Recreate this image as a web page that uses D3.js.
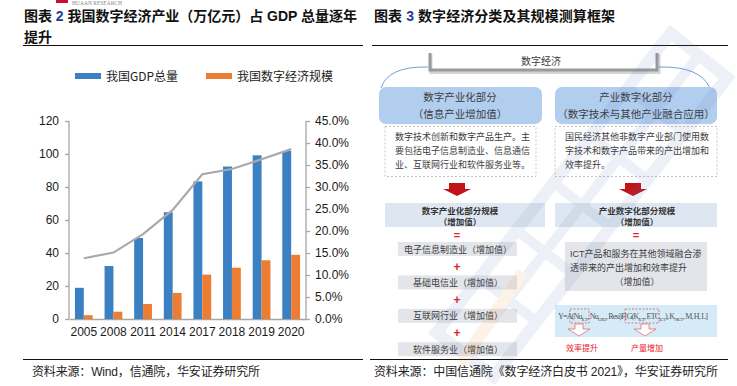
<!DOCTYPE html>
<html>
<head>
<meta charset="utf-8">
<script src="https://cdn.jsdelivr.net/npm/d3@7/dist/d3.min.js"></script>
<style>
  body { margin: 0; background: #fff; }
  svg { display: block; }
  text { font-family: "Liberation Sans", "Noto Sans CJK SC", sans-serif; }
  .cjk { font-family: "Noto Sans CJK SC", sans-serif; }
</style>
</head>
<body>
<svg id="chart" width="737" height="386"></svg>
<script>
// ---- chart 2 data (万亿元, %)
var years = ["2005", "2008", "2011", "2014", "2017", "2018", "2019", "2020"];
var gdpTotal = [18.9, 32.1, 49.1, 64.7, 83.4, 92.4, 99.2, 101.8];
var digitalScale = [2.3, 4.4, 9.1, 15.8, 26.9, 31.1, 35.6, 38.9];
var digitalShare = [13.8, 15.1, 19.3, 24.8, 32.9, 34.1, 36.3, 38.6];
var leftTicks = [0, 20, 40, 60, 80, 100, 120];
var rightTicks = [0, 5, 10, 15, 20, 25, 30, 35, 40, 45];
var seriesNames = ["我国GDP总量", "我国数字经济规模"];

// ---- chart 3 (framework) texts
var topLabel = "数字经济";
var partTitles = [["数字产业化部分", "（信息产业增加值）"], ["产业数字化部分", "（数字技术与其他产业融合应用）"]];
var partDesc = [
  ["数字技术创新和数字产品生产。主", "要包括电子信息制造业、信息通信", "业、互联网行业和软件服务业等。"],
  ["国民经济其他非数字产业部门使用数", "字技术和数字产品带来的产出增加和", "效率提升。"]
];
var scaleTitles = [["数字产业化部分规模", "（增加值）"], ["产业数字化部分规模", "（增加值）"]];
var industries = ["电子信息制造业（增加值）", "基础电信业（增加值）", "互联网行业（增加值）", "软件服务业（增加值）"];
var ictText = ["ICT产品和服务在其他领域融合渗", "透带来的产出增加和效率提升", "（增加值）"];
var formulaParts = [["Y=A(Nu", 0], ["ICT", 1], [", Nu", 0], ["OTD", 1], [", Resi)F[G(K", 0], ["ICT", 1],
  [", ETC", 0], ["ICT", 1], ["), K", 0], ["NICT", 1], [", M, H, L]", 0]];
var effects = ["效率提升", "产量增加"];

var blue = "#3a80c2", orange = "#ed7d31", lineGray = "#a9a9a9";
var svg = d3.select("#chart");

// header logo scrap
svg.append("rect").attr("x", 56).attr("y", 0).attr("width", 12).attr("height", 3).attr("fill", "#c8102e");
svg.append("text").attr("x", 72).attr("y", 5).attr("font-size", 5.5).attr("fill", "#888")
  .style("font-family", "Liberation Serif").text("HUAAN RESEARCH");

// titles
var t1 = svg.append("text").attr("x", 24).attr("y", 21).attr("font-size", 14).attr("font-weight", "bold")
  .attr("textLength", 333).attr("lengthAdjust", "spacing").attr("fill", "#111");
t1.append("tspan").text("图表 ");
t1.append("tspan").attr("fill", "#1d4191").text("2");
t1.append("tspan").text(" 我国数字经济产业（万亿元）占 GDP 总量逐年");
svg.append("text").attr("x", 24).attr("y", 42).attr("font-size", 14).attr("font-weight", "bold")
  .attr("fill", "#111").text("提升");
var t2 = svg.append("text").attr("x", 374).attr("y", 21).attr("font-size", 14).attr("font-weight", "bold")
  .attr("textLength", 241).attr("lengthAdjust", "spacing").attr("fill", "#111");
t2.append("tspan").text("图表 ");
t2.append("tspan").attr("fill", "#1d4191").text("3");
t2.append("tspan").text(" 数字经济分类及其规模测算框架");

// rules
[[23, 363, 45.5], [372, 728, 45.5], [23, 363, 359.5], [370, 728, 359.5]].forEach(function (r) {
  svg.append("line").attr("x1", r[0]).attr("x2", r[1]).attr("y1", r[2]).attr("y2", r[2])
    .attr("stroke", "#111").attr("stroke-width", 1.2);
});

// sources
svg.append("text").attr("x", 32).attr("y", 376).attr("font-size", 12).attr("fill", "#222")
  .attr("textLength", 228).attr("lengthAdjust", "spacing").text("资料来源：Wind，信通院，华安证券研究所");
svg.append("text").attr("x", 374).attr("y", 376).attr("font-size", 12).attr("fill", "#222")
  .attr("textLength", 344).attr("lengthAdjust", "spacing").text("资料来源：中国信通院《数字经济白皮书 2021》，华安证券研究所");

// ================= left chart =================
var x = d3.scaleBand().domain(years).range([69, 306]).paddingInner(0.4).paddingOuter(0.2);
var xs = d3.scaleBand().domain([0, 1]).range([0, x.bandwidth()]);
var y = d3.scaleLinear().domain([0, 120]).range([319, 121]);
var y2 = d3.scaleLinear().domain([0, 45]).range([319, 121]);

var g = svg.append("g");

var yAxis = d3.axisLeft(y).tickValues(leftTicks).tickSize(4).tickPadding(6);
var gy = g.append("g").attr("transform", "translate(69,0)").call(yAxis);
var y2Axis = d3.axisRight(y2).tickValues(rightTicks).tickSize(4).tickPadding(5)
  .tickFormat(function (d) { return d.toFixed(1) + "%"; });
var gy2 = g.append("g").attr("transform", "translate(306,0)").call(y2Axis);
var xAxis = d3.axisBottom(x).tickSize(0).tickPadding(8);
var gx = g.append("g").attr("transform", "translate(0,319)").call(xAxis);
[gy, gy2, gx].forEach(function (a) {
  a.selectAll("path, line").attr("stroke", "#a6a6a6").attr("stroke-width", 1.3);
  a.selectAll("text").attr("font-size", 12).attr("fill", "#1a1a1a")
    .style("font-family", "Liberation Sans");
});
gy2.select(".domain").attr("d", "M0,121V319");
gy.select(".domain").attr("d", "M0,121V319");

// bars
var bars = g.append("g");
bars.selectAll("rect.gdp").data(gdpTotal).enter().append("rect")
  .attr("x", function (d, i) { return x(years[i]) + xs(0); })
  .attr("width", xs.bandwidth())
  .attr("y", function (d) { return y(d); })
  .attr("height", function (d) { return y(0) - y(d); })
  .attr("fill", blue);
bars.selectAll("rect.dig").data(digitalScale).enter().append("rect")
  .attr("x", function (d, i) { return x(years[i]) + xs(1); })
  .attr("width", xs.bandwidth())
  .attr("y", function (d) { return y(d); })
  .attr("height", function (d) { return y(0) - y(d); })
  .attr("fill", orange);

// share line
var line = d3.line()
  .x(function (d, i) { return x(years[i]) + x.bandwidth() / 2; })
  .y(function (d) { return y2(d); });
g.append("path").datum(digitalShare).attr("d", line)
  .attr("fill", "none").attr("stroke", lineGray).attr("stroke-width", 2.2);

// legend
var legendX = [75, 206];
seriesNames.forEach(function (name, i) {
  svg.append("rect").attr("x", legendX[i]).attr("y", 73).attr("width", 26).attr("height", 6)
    .attr("fill", i === 0 ? blue : orange);
  svg.append("text").attr("class", "cjk").attr("x", legendX[i] + 31).attr("y", 80.5)
    .attr("font-size", 12).attr("fill", "#222").text(name);
});

// ================= right diagram =================
var d = svg.append("g").attr("class", "cjk");
var textGray = "#3c3c3c";

// bracket
d.append("path").attr("d", "M430,53V71H658V53").attr("fill", "none")
  .attr("stroke", "#d4d4d4").attr("stroke-width", 3).attr("transform", "translate(1,1.5)");
d.append("path").attr("d", "M430,53V70H657V53").attr("fill", "none")
  .attr("stroke", "#9a9a9a").attr("stroke-width", 3);
d.append("text").attr("x", 541).attr("y", 64.5).attr("text-anchor", "middle")
  .attr("font-size", 10).attr("fill", textGray).text(topLabel);

// arcs
d.append("path").attr("d", "M381,88Q388,66 428,67").attr("fill", "none").attr("stroke", "#6fa0d6").attr("stroke-width", 1);
d.append("path").attr("d", "M659,67Q700,66 710,88").attr("fill", "none").attr("stroke", "#6fa0d6").attr("stroke-width", 1);

var cols = [{ x0: 379, x1: 542, cx: 460 }, { x0: 555, x1: 717, cx: 636 }];

cols.forEach(function (c, i) {
  // part box
  d.append("rect").attr("x", c.x0).attr("y", 87).attr("width", c.x1 - c.x0).attr("height", 37)
    .attr("rx", 7).attr("fill", "#b2ceef");
  partTitles[i].forEach(function (t, k) {
    d.append("text").attr("x", c.cx).attr("y", 101 + k * 17).attr("text-anchor", "middle")
      .attr("font-size", 10.5).attr("fill", textGray).text(t);
  });
  // dashed desc box
  d.append("rect").attr("x", c.x0 + (i === 0 ? 6 : 0)).attr("y", 126.5)
    .attr("width", (i === 0 ? 151 : 162)).attr("height", 50)
    .attr("fill", "#fff").attr("stroke", "#b5b5b5").attr("stroke-width", 0.8).attr("stroke-dasharray", "2,2");
  partDesc[i].forEach(function (t, k) {
    d.append("text").attr("x", c.x0 + (i === 0 ? 16 : 10)).attr("y", 139.5 + k * 14)
      .attr("font-size", 9).attr("fill", textGray).text(t);
  });
  // red arrow
  var ax = c.cx - 3, ay = 183;
  d.append("path").attr("d", "M" + (ax - 8) + "," + ay + "h16v6h6l-14,7l-14,-7h6z").attr("fill", "#c0141b");
  // scale box
  d.append("rect").attr("x", i === 0 ? 385 : 555).attr("y", 203).attr("width", i === 0 ? 160 : 162).attr("height", 24)
    .attr("fill", "#dee7f1");
  scaleTitles[i].forEach(function (t, k) {
    d.append("text").attr("x", i === 0 ? 460 : 637).attr("y", 214 + k * 10.5).attr("text-anchor", "middle")
      .attr("font-size", 8.5).attr("font-weight", "bold").attr("fill", "#333").text(t);
  });
  // equals
  d.append("text").attr("x", i === 0 ? 457 : 636).attr("y", 239).attr("text-anchor", "middle")
    .attr("font-size", 11).attr("font-weight", "bold").attr("fill", "#e0202a").text("=");
});

// industries
industries.forEach(function (t, i) {
  var top = 242 + i * 33.4;
  d.append("rect").attr("x", 398).attr("y", top).attr("width", 119).attr("height", 14).attr("fill", "#e3e5ea");
  d.append("text").attr("x", 458).attr("y", top + 10.5).attr("text-anchor", "middle")
    .attr("font-size", 9).attr("fill", textGray).text(t);
  if (i < industries.length - 1) {
    d.append("text").attr("x", 457).attr("y", top + 28.5).attr("text-anchor", "middle")
      .attr("font-size", 12).attr("font-weight", "bold").attr("fill", "#e0202a").text("+");
  }
});

// ICT box
d.append("rect").attr("x", 565).attr("y", 242).attr("width", 142).attr("height", 49).attr("fill", "#e3e5ea");
ictText.forEach(function (t, k) {
  d.append("text").attr("x", k < 2 ? 570 : 637).attr("y", 256.5 + k * 14)
    .attr("text-anchor", k < 2 ? "start" : "middle")
    .attr("font-size", 9).attr("fill", textGray).text(t);
});

// formula box
d.append("rect").attr("x", 555).attr("y", 305).attr("width", 162).attr("height", 32).attr("fill", "#d6ebf8");
var f = d.append("text").attr("x", 558).attr("y", 318.5).attr("font-size", 8).attr("fill", "#555")
  .style("font-family", "Liberation Serif").attr("textLength", 150).attr("lengthAdjust", "spacing");
formulaParts.forEach(function (p, i) {
  var prevSub = i > 0 && formulaParts[i - 1][1];
  var s = f.append("tspan").text(p[0]);
  if (p[1]) s.attr("font-size", 5).attr("dy", 2);
  else if (prevSub) s.attr("dy", -2);
});
d.append("rect").attr("x", 570).attr("y", 309).attr("width", 19).attr("height", 14)
  .attr("fill", "none").attr("stroke", "#e05a5a").attr("stroke-width", 0.8).attr("stroke-dasharray", "2,1.5");
d.append("rect").attr("x", 625).attr("y", 309).attr("width", 34).attr("height", 14)
  .attr("fill", "none").attr("stroke", "#e05a5a").attr("stroke-width", 0.8).attr("stroke-dasharray", "2,1.5");
[579, 645].forEach(function (cx, i) {
  d.append("path").attr("d", "M" + (cx - 4) + ",324v5h-7l11,7l11,-7h-7v-5z")
    .attr("fill", "#fff").attr("stroke", "#e07070").attr("stroke-width", 0.8);
  d.append("text").attr("x", i === 0 ? 582 : 647).attr("y", 351).attr("text-anchor", "middle")
    .attr("font-size", 8).attr("fill", "#e8202a").text(effects[i]);
});

// watermark (faint)
var wm = svg.append("g").attr("opacity", 0.1).attr("pointer-events", "none");
var band = wm.append("g").attr("transform", "translate(582,205) rotate(-52)");
band.append("rect").attr("x", -190).attr("y", -36).attr("width", 380).attr("height", 72)
  .attr("fill", "none").attr("stroke", "#5a78b8").attr("stroke-width", 12);
[-120, -60, 0, 60, 120].forEach(function (xx) {
  band.append("rect").attr("x", xx - 5).attr("y", -36).attr("width", 10).attr("height", 72).attr("fill", "#5a78b8");
});
band.append("rect").attr("x", -190).attr("y", -5).attr("width", 380).attr("height", 10).attr("fill", "#5a78b8");
wm.append("g").attr("transform", "translate(492,318) rotate(-56)")
  .append("rect").attr("x", -55).attr("y", -6).attr("width", 110).attr("height", 12).attr("fill", "#f08a1c")
  .attr("opacity", 1.6);
</script>
</body>
</html>
